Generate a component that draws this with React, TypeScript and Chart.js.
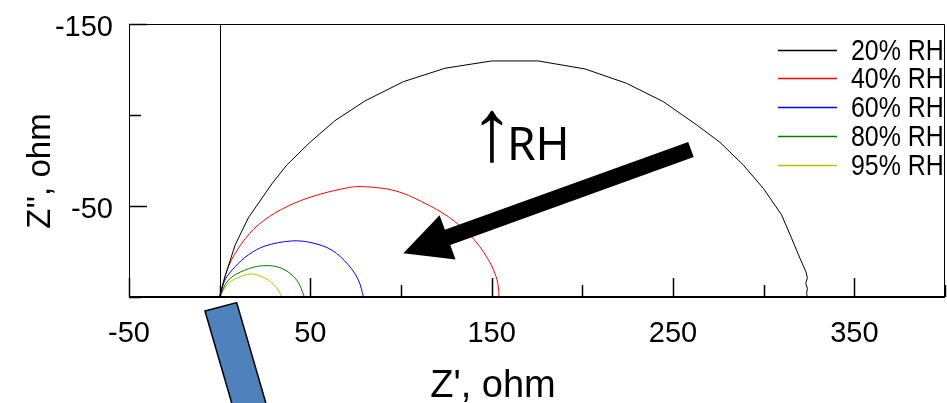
import { useEffect, useRef } from 'react';
import { Chart, registerables } from 'chart.js';

Chart.register(...registerables);

// Nyquist spectra: real part Z' and imaginary part Z'' (ohm) per humidity level
const rh20Re = [0, 2.9, 8.5, 15.8, 29.0, 37.0, 49.8, 63.6, 80.1, 101.3, 124.3, 150.0, 175.6, 201.5, 224.4, 244.7, 263.1, 275.9, 288.8, 299.8, 309.9, 315.4, 320.0, 323.3, 324.1, 323.2, 324.1, 323.7, 324.0];
const rh20Im = [0, -11.2, -28.5, -43.5, -62.5, -72.5, -85.0, -96.9, -107.7, -118.3, -125.7, -129.7, -129.7, -125.3, -117.4, -107.3, -94.5, -85.0, -72.5, -59.7, -45.1, -32.3, -21.3, -13.9, -10.6, -7.5, -4.8, -2.0, -0.3];

const rh40Re = [0, 4.8, 12.2, 21.3, 34.2, 50.8, 71.0, 80.1, 96.7, 111.4, 126.1, 138.9, 147.2, 151.8, 153.7, 154.0];
const rh40Im = [0, -16.6, -29.5, -39.6, -48.2, -55.1, -60.1, -60.6, -58.4, -52.4, -44.1, -33.1, -22.1, -13.0, -5.7, -0.2];

const rh60Re = [0, 2.9, 8.5, 15.8, 25.0, 39.7, 50.8, 61.8, 71.0, 76.5, 79.3];
const rh60Im = [0, -9.3, -16.6, -23.1, -28.0, -30.8, -29.8, -25.8, -17.6, -9.3, -0.2];

const rh80Re = [0, 4.8, 14.0, 24.1, 34.2, 42.5, 46.7];
const rh80Im = [0, -9.3, -14.8, -17.2, -15.8, -9.3, -0.2];

const rh95Re = [0, 4.8, 12.2, 18.6, 26.8, 32.3, 34.2];
const rh95Im = [0, -7.5, -11.5, -12.6, -9.3, -3.8, -0.2];

const seriesLabels = ['20% RH', '40% RH', '60% RH', '80% RH', '95% RH'];
const seriesColors = ['#000000', '#ff0000', '#0000ff', '#008000', '#bdbd00'];

// Axis ticks: labelled (long) and unlabelled (short)
const xLabelTicks = [-50, 50, 150, 250, 350];
const xMinorTicks = [0, 100, 200, 300, 400];
const yLabelTicks = [-150, -50];
const yMinorTicks = [-100, 0];

const xTitle = "Z', ohm";
const yTitle = "Z'', ohm";
const trendArrow = '↑';
const trendText = 'RH';

const FONT = '"Liberation Sans", Arial, sans-serif';

const toPoints = (re: number[], im: number[]) => re.map((x, i) => ({ x, y: im[i] }));

const decorations = {
  id: 'decorations',
  afterDatasetsDraw(chart: any) {
    const { ctx, chartArea: a, scales } = chart;
    const xs = scales.x;
    const ys = scales.y;
    ctx.save();

    // frame
    ctx.strokeStyle = '#000';
    ctx.lineWidth = 1;
    ctx.beginPath();
    ctx.moveTo(a.left + 0.5, a.bottom);
    ctx.lineTo(a.left + 0.5, a.top + 0.5);
    ctx.lineTo(a.right - 0.5, a.top + 0.5);
    ctx.lineTo(a.right - 0.5, a.bottom);
    ctx.stroke();
    ctx.lineWidth = 2;
    ctx.beginPath();
    ctx.moveTo(a.left, a.bottom);
    ctx.lineTo(a.right, a.bottom);
    ctx.stroke();

    // vertical line at Z' = 0
    const x0 = Math.round(xs.getPixelForValue(0)) + 0.5;
    ctx.lineWidth = 1;
    ctx.beginPath();
    ctx.moveTo(x0, a.top);
    ctx.lineTo(x0, a.bottom);
    ctx.stroke();

    // inward tick marks
    ctx.lineWidth = 1.5;
    const xt = (v: number, len: number) => {
      const px = Math.round(xs.getPixelForValue(v)) + 0.5;
      ctx.beginPath();
      ctx.moveTo(px, a.bottom);
      ctx.lineTo(px, a.bottom - len);
      ctx.stroke();
    };
    const yt = (v: number, len: number) => {
      const py = Math.round(ys.getPixelForValue(v)) + 0.5;
      ctx.beginPath();
      ctx.moveTo(a.left, py);
      ctx.lineTo(a.left + len, py);
      ctx.stroke();
    };
    xLabelTicks.forEach((v) => xt(v, 19));
    xMinorTicks.forEach((v) => xt(v, 12));
    yLabelTicks.forEach((v) => yt(v, 18));
    yMinorTicks.forEach((v) => yt(v, 12));

    // legend inside the plot, top right (condensed lettering)
    ctx.textAlign = 'left';
    ctx.textBaseline = 'middle';
    seriesLabels.forEach((label, i) => {
      const ly = a.top + 25.5 + i * 28.8;
      ctx.strokeStyle = seriesColors[i];
      ctx.lineWidth = 1.5;
      ctx.beginPath();
      ctx.moveTo(778, Math.round(ly) + 0.5);
      ctx.lineTo(837, Math.round(ly) + 0.5);
      ctx.stroke();
      ctx.save();
      ctx.translate(851, ly + 2);
      ctx.scale(0.86, 1);
      ctx.font = `29px ${FONT}`;
      ctx.fillStyle = '#000';
      ctx.fillText(label, 0, 0);
      ctx.restore();
    });

    // axis titles
    ctx.fillStyle = '#000';
    ctx.font = `38px ${FONT}`;
    ctx.textAlign = 'center';
    ctx.textBaseline = 'alphabetic';
    ctx.fillText(xTitle, 493, 397);
    ctx.font = `33px ${FONT}`;
    ctx.save();
    ctx.translate(50, 171);
    ctx.rotate(-Math.PI / 2);
    ctx.fillText(yTitle, 0, 0);
    ctx.restore();

    // trend label
    ctx.textAlign = 'left';
    ctx.font = `88px "Noto Sans", "Open Sans", sans-serif`;
    ctx.fillText(trendArrow, 470, 160);
    ctx.font = `46px "Noto Sans", "Open Sans", sans-serif`;
    ctx.fillText(trendText, 507, 160);

    // trend arrow, anchored in data units
    const tx = xs.getPixelForValue(259.9);
    const ty = ys.getPixelForValue(-81.0);
    const hx = xs.getPixelForValue(101.3);
    const hy = ys.getPixelForValue(-24.0);
    const dx = hx - tx;
    const dy = hy - ty;
    const len = Math.hypot(dx, dy);
    const ux = dx / len;
    const uy = dy / len;
    const nx = -uy;
    const ny = ux;
    const shaftHalf = 8;
    const headLen = 47;
    const headHalf = 23.5;
    const bx = hx - ux * headLen;
    const by = hy - uy * headLen;
    ctx.fillStyle = '#000';
    ctx.beginPath();
    ctx.moveTo(tx + nx * shaftHalf, ty + ny * shaftHalf);
    ctx.lineTo(bx + nx * shaftHalf, by + ny * shaftHalf);
    ctx.lineTo(bx + nx * headHalf, by + ny * headHalf);
    ctx.lineTo(hx, hy);
    ctx.lineTo(bx - nx * headHalf, by - ny * headHalf);
    ctx.lineTo(bx - nx * shaftHalf, by - ny * shaftHalf);
    ctx.lineTo(tx - nx * shaftHalf, ty - ny * shaftHalf);
    ctx.closePath();
    ctx.fill();

    // tilted marker bar below the origin
    const rx = xs.getPixelForValue(-8.1);
    const ry = ys.getPixelForValue(7.7);
    const wx = 31.7;
    const wy = -8.4;
    const lx = 0.279 * 200;
    const lyv = 0.96 * 200;
    ctx.fillStyle = '#4f81bd';
    ctx.strokeStyle = '#000';
    ctx.lineWidth = 1.5;
    ctx.beginPath();
    ctx.moveTo(rx, ry);
    ctx.lineTo(rx + wx, ry + wy);
    ctx.lineTo(rx + wx + lx, ry + wy + lyv);
    ctx.lineTo(rx + lx, ry + lyv);
    ctx.closePath();
    ctx.fill();
    ctx.stroke();

    ctx.restore();
  },
};

export default function App() {
  const canvasRef = useRef<HTMLCanvasElement | null>(null);

  useEffect(() => {
    const canvas = canvasRef.current;
    if (!canvas) return;
    const seriesData = [
      toPoints(rh20Re, rh20Im),
      toPoints(rh40Re, rh40Im),
      toPoints(rh60Re, rh60Im),
      toPoints(rh80Re, rh80Im),
      toPoints(rh95Re, rh95Im),
    ];
    const chart = new Chart(canvas, {
      type: 'scatter',
      data: {
        datasets: seriesData.map((data, i) => ({
          label: seriesLabels[i],
          data,
          showLine: true,
          borderColor: seriesColors[i],
          backgroundColor: seriesColors[i],
          borderWidth: 1,
          pointRadius: 0,
          tension: i === 0 ? 0 : 0.35,
        })),
      },
      options: {
        responsive: false,
        animation: false,
        devicePixelRatio: 1,
        layout: { padding: { left: 0, top: 24, right: 2, bottom: 0 } },
        plugins: { legend: { display: false }, tooltip: { enabled: false } },
        scales: {
          x: {
            type: 'linear',
            min: -50,
            max: 400,
            grid: { display: false, drawTicks: false },
            border: { display: false },
            afterBuildTicks: (s: any) => {
              s.ticks = xLabelTicks.map((value) => ({ value }));
            },
            afterFit: (s: any) => {
              s.height = 106;
              s.paddingLeft = 0;
              s.paddingRight = 0;
            },
            ticks: {
              padding: 20,
              color: '#000',
              font: { family: FONT, size: 29 },
              maxRotation: 0,
              callback: (v: any) => String(v),
            },
          },
          y: {
            type: 'linear',
            min: -150,
            max: 0,
            reverse: true,
            grid: { display: false, drawTicks: false },
            border: { display: false },
            afterBuildTicks: (s: any) => {
              s.ticks = yLabelTicks.map((value) => ({ value }));
            },
            afterFit: (s: any) => {
              s.width = 129;
              s.paddingTop = 0;
              s.paddingBottom = 0;
            },
            ticks: {
              padding: 16,
              labelOffset: 4,
              color: '#000',
              font: { family: FONT, size: 29 },
              callback: (v: any) => String(v),
            },
          },
        },
      },
      plugins: [decorations],
    });
    return () => chart.destroy();
  }, []);

  return (
    <div style={{ position: 'fixed', left: 0, top: 0, width: 947, height: 403, background: '#fff' }}>
      <canvas ref={canvasRef} width={947} height={403} style={{ display: 'block' }} />
    </div>
  );
}
